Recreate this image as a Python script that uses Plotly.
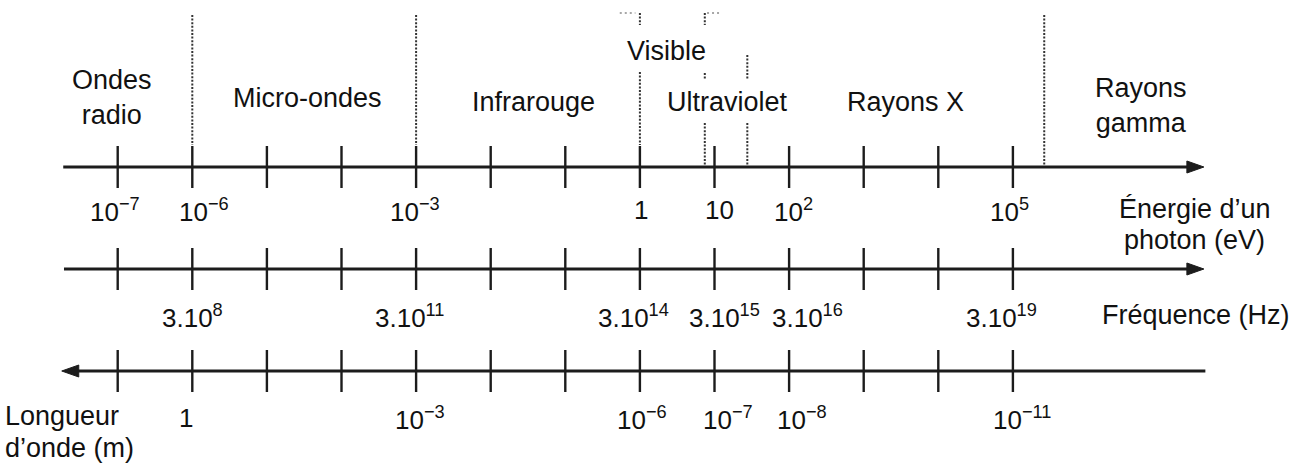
import plotly.graph_objects as go

# ---------------- data (x unit = log10 of photon energy in eV, one tick per decade) -------------
decades = list(range(-7, 6))

energy_pos = [-7, -6, -3, 0, 1, 2, 5]
energy_labels = ["10<sup>−7</sup>", "10<sup>−6</sup>", "10<sup>−3</sup>", "1", "10",
                 "10<sup>2</sup>", "10<sup>5</sup>"]

freq_pos = [-6, -3, 0, 1, 2, 5]
freq_labels = ["3.10<sup>8</sup>", "3.10<sup>11</sup>", "3.10<sup>14</sup>", "3.10<sup>15</sup>",
               "3.10<sup>16</sup>", "3.10<sup>19</sup>"]

wave_pos = [-6, -3, 0, 1, 2, 5]
wave_labels = ["1", "10<sup>−3</sup>", "10<sup>−6</sup>", "10<sup>−7</sup>", "10<sup>−8</sup>",
               "10<sup>−11</sup>"]

region_names = ["Ondes<br>radio", "Micro-ondes", "Infrarouge", "Visible", "Ultraviolet",
                "Rayons X", "Rayons<br>gamma"]
region_pos = [-7.08, -4.45, -1.42, 0.35, 1.18, 3.56, 6.72]

boundaries = [-6, -3, 0, 0.87, 1.44, 5.42]

# ---------------- layout / style constants (pixel rows, y axis reversed) -------------------------
W, H = 1296, 468
PX0, PXD = 117.7, 74.6          # pixel of x=-7 and pixels per decade
X_MIN = -7 - PX0 / PXD
X_MAX = X_MIN + W / PXD
ROWS = {"energy": 167, "freq": 269, "wave": 371}
TICK_HALF = 21
INK = "#1c1c1c"
FONT = "Arial, 'Liberation Sans', Helvetica, sans-serif"
FS = 27

region_y = [97, 98, 102, 51, 102, 102, 105]
seg_ranges = [[(15, 145)], [(15, 145)], [(13, 25), (72, 145)],
              [(13, 25), (73, 79), (123, 165)], [(55, 80), (123, 165)], [(15, 165)]]
energy_shift = [-3, 12, -1, 1, 5, 4, -3]
freq_shift = [0, -6, -6, 10, 18, -11]
wave_shift = [-6, 4, 2, 13, 13, 9]
LABEL_Y = {"energy": 210, "freq": 316, "wave": 418}

fig = go.Figure()

# dotted boundaries between domains
bx, by = [], []
for b, segs in zip(boundaries, seg_ranges):
    for y0, y1 in segs:
        bx += [b, b, None]
        by += [y0, y1, None]
fig.add_trace(go.Scatter(x=bx, y=by, mode="lines",
                         line=dict(color="#333333", width=2, dash="2px,1.6px"),
                         hoverinfo="skip", showlegend=False))
# small cut-off horizontal dotted pieces at the very top (faint)
fig.add_trace(go.Scatter(x=[-0.27, -0.06, None, 0.90, 1.10], y=[13, 13, None, 13, 13],
                         mode="lines", line=dict(color="#8a8a8a", width=1.6, dash="2px,3px"),
                         hoverinfo="skip", showlegend=False))

# axis lines
axis_ext = {"energy": (-7.73, 7.45), "freq": (-7.72, 7.45), "wave": (-7.62, 7.58)}
for key, (a, b) in axis_ext.items():
    fig.add_trace(go.Scatter(x=[a, b], y=[ROWS[key]] * 2, mode="lines",
                             line=dict(color=INK, width=3), hoverinfo="skip", showlegend=False))

# tick marks on each axis
tx, ty = [], []
for key in ROWS:
    for d in decades:
        tx += [d, d, None]
        ty += [ROWS[key] - TICK_HALF, ROWS[key] + TICK_HALF, None]
fig.add_trace(go.Scatter(x=tx, y=ty, mode="lines", line=dict(color=INK, width=2.4),
                         hoverinfo="skip", showlegend=False))

# arrowheads
shapes = []
for key, tip, path in [("energy", 7.56, "M0,0 L-17,6 L-17,-6 Z"),
                       ("freq", 7.56, "M0,0 L-17,6 L-17,-6 Z"),
                       ("wave", -7.75, "M0,0 L17,6 L17,-6 Z")]:
    shapes.append(dict(type="path", xref="x", yref="y", xsizemode="pixel", ysizemode="pixel",
                       xanchor=tip, yanchor=ROWS[key], path=path,
                       fillcolor=INK, line=dict(color=INK, width=1)))

ann = []
def add_text(x, y, text, xshift=0, xanchor="center", size=FS):
    ann.append(dict(x=x, y=y, xref="x", yref="y", text=text, showarrow=False,
                    xanchor=xanchor, yanchor="middle", xshift=xshift,
                    font=dict(family=FONT, size=size, color="#111111")))

for name, x, y in zip(region_names, region_pos, region_y):
    add_text(x, y, name)
for x, t, s in zip(energy_pos, energy_labels, energy_shift):
    add_text(x, LABEL_Y["energy"], t, s, size=26)
for x, t, s in zip(freq_pos, freq_labels, freq_shift):
    add_text(x, LABEL_Y["freq"], t, s, size=26)
for x, t, s in zip(wave_pos, wave_labels, wave_shift):
    add_text(x, LABEL_Y["wave"], t, s, size=26)

# axis titles
add_text(7.44, 209, "Énergie d’un")
add_text(7.44, 240, "photon (eV)")
add_text(7.46, 315, "Fréquence (Hz)")
add_text(X_MIN + 3 / PXD, 416, "Longueur", xanchor="left")
add_text(X_MIN + 3 / PXD, 448, "d’onde (m)", xanchor="left")

fig.update_layout(
    width=W, height=H, autosize=False,
    margin=dict(l=0, r=0, t=0, b=0),
    paper_bgcolor="white", plot_bgcolor="white",
    xaxis=dict(range=[X_MIN, X_MAX], visible=False, fixedrange=True),
    yaxis=dict(range=[H, 0], visible=False, fixedrange=True),
    shapes=shapes, annotations=ann, showlegend=False,
)

fig.write_html("out.html", config={"displayModeBar": False, "staticPlot": True},
               post_script="document.body.style.margin='0';document.body.style.overflow='hidden';")
